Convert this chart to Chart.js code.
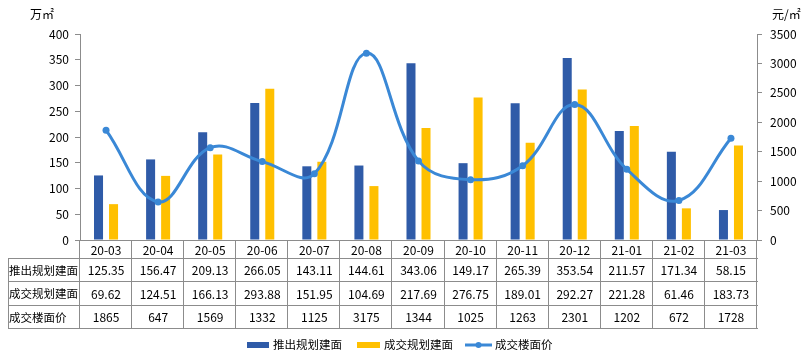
<!DOCTYPE html>
<html><head><meta charset="utf-8">
<script src="https://cdn.jsdelivr.net/npm/chart.js@4.4.1/dist/chart.umd.min.js"></script>
<style>html,body{margin:0;padding:0;background:#fff;}#wrap{width:804px;height:358px;position:relative;}</style>
</head><body><div id="wrap"><canvas id="c" width="804" height="358"></canvas></div>
<script>
const categories = ['20-03','20-04','20-05','20-06','20-07','20-08','20-09','20-10','20-11','20-12','21-01','21-02','21-03'];
const launched = [125.35,156.47,209.13,266.05,143.11,144.61,343.06,149.17,265.39,353.54,211.57,171.34,58.15];
const traded = [69.62,124.51,166.13,293.88,151.95,104.69,217.69,276.75,189.01,292.27,221.28,61.46,183.73];
const price = [1865,647,1569,1332,1125,3175,1344,1025,1263,2301,1202,672,1728];
const launchedText = ['125.35','156.47','209.13','266.05','143.11','144.61','343.06','149.17','265.39','353.54','211.57','171.34','58.15'];
const tradedText = ['69.62','124.51','166.13','293.88','151.95','104.69','217.69','276.75','189.01','292.27','221.28','61.46','183.73'];
const priceText = ['1865','647','1569','1332','1125','3175','1344','1025','1263','2301','1202','672','1728'];
const seriesNames = ['推出规划建面','成交规划建面','成交楼面价'];
const leftUnit = '万㎡';
const rightUnit = '元/㎡';

const BLUE = '#2f5ba8', YELLOW = '#ffc000', LINE = '#3a88d6', GRID = '#8c8c8c', TXT = '#000';
const FONT = '"Noto Sans CJK SC", "Noto Sans", sans-serif';

const tablePlugin = {
  id: 'tablePlugin',
  afterDraw(chart) {
    const ctx = chart.ctx, x = chart.scales.x, a = chart.chartArea;
    const n = categories.length;
    const cw = (a.right - a.left) / n;
    const rows = [a.bottom, 258, 281, 305, 328];
    const tLeft = 8;
    ctx.save();
    ctx.strokeStyle = GRID; ctx.lineWidth = 1;
    ctx.beginPath();
    ctx.moveTo(a.left, rows[0] + 0.5); ctx.lineTo(a.right + 1, rows[0] + 0.5);
    for (let r = 1; r < rows.length; r++) { ctx.moveTo(tLeft, rows[r] + 0.5); ctx.lineTo(a.right + 1, rows[r] + 0.5); }
    ctx.moveTo(tLeft + 0.5, rows[1]); ctx.lineTo(tLeft + 0.5, rows[4] + 0.5);
    for (let i = 0; i <= n; i++) {
      const px = Math.round(a.left + i * cw) - 0.5;
      ctx.moveTo(px, rows[0]); ctx.lineTo(px, rows[4] + 0.5);
    }
    ctx.stroke();
    ctx.fillStyle = TXT;
    ctx.textBaseline = 'middle';
    ctx.font = '12px ' + FONT;
    ctx.textAlign = 'center';
    const rowData = [categories, launchedText, tradedText, priceText];
    for (let r = 0; r < 4; r++) {
      const cy = (rows[r] + rows[r + 1]) / 2 + 1;
      for (let i = 0; i < n; i++) {
        ctx.fillText(rowData[r][i], x.getPixelForValue(i), cy);
      }
    }
    ctx.textAlign = 'left';
    ctx.font = '11.5px ' + FONT;
    for (let r = 1; r < 4; r++) {
      const cy = (rows[r] + rows[r + 1]) / 2 + 1;
      ctx.fillText(seriesNames[r - 1], 9, cy);
    }
    ctx.font = '12px ' + FONT;
    ctx.fillText(leftUnit, 30, 14);
    ctx.fillText(rightUnit, 772, 14);
    const ly = 345;
    ctx.font = '11.5px ' + FONT;
    ctx.fillStyle = BLUE; ctx.fillRect(247, ly - 3, 22, 6);
    ctx.fillStyle = TXT; ctx.fillText(seriesNames[0], 273, ly);
    ctx.fillStyle = YELLOW; ctx.fillRect(357, ly - 3, 23, 6);
    ctx.fillStyle = TXT; ctx.fillText(seriesNames[1], 384, ly);
    ctx.strokeStyle = LINE; ctx.lineWidth = 3;
    ctx.beginPath(); ctx.moveTo(465, ly); ctx.lineTo(492, ly); ctx.stroke();
    ctx.fillStyle = LINE; ctx.beginPath(); ctx.arc(478.5, ly, 3, 0, Math.PI * 2); ctx.fill();
    ctx.fillStyle = TXT; ctx.fillText(seriesNames[2], 495, ly);
    ctx.restore();
  }
};

new Chart(document.getElementById('c'), {
  type: 'bar',
  data: {
    labels: categories,
    datasets: [
      { type: 'line', label: seriesNames[2], data: price, yAxisID: 'y1', borderColor: LINE, backgroundColor: LINE,
        borderWidth: 3, pointRadius: 3.5, pointBackgroundColor: LINE, pointBorderWidth: 0, tension: 0.4, order: 0 },
      { label: seriesNames[0], data: launched, yAxisID: 'y', backgroundColor: BLUE, categoryPercentage: 0.577, barPercentage: 0.6, order: 1 },
      { label: seriesNames[1], data: traded, yAxisID: 'y', backgroundColor: YELLOW, categoryPercentage: 0.577, barPercentage: 0.6, order: 2 }
    ]
  },
  options: {
    responsive: false, animation: false, devicePixelRatio: 1,
    layout: { padding: { left: 0, right: 0, top: 34, bottom: 118 } },
    plugins: { legend: { display: false }, tooltip: { enabled: false } },
    scales: {
      x: { display: false, offset: true },
      y: {
        position: 'left', min: 0, max: 400,
        ticks: { stepSize: 50, color: TXT, font: { family: FONT, size: 12 }, padding: 6, callback: v => String(v) },
        grid: { drawOnChartArea: false, drawTicks: true, tickLength: 5, color: GRID },
        border: { display: true, color: GRID },
        afterFit(s) { s.width = 80; }
      },
      y1: {
        position: 'right', min: 0, max: 3500,
        ticks: { stepSize: 500, color: TXT, font: { family: FONT, size: 12 }, padding: 8, callback: v => String(v) },
        grid: { drawOnChartArea: false, drawTicks: true, tickLength: 5, color: GRID },
        border: { display: true, color: GRID },
        afterFit(s) { s.width = 47; }
      }
    }
  },
  plugins: [tablePlugin]
});
</script></body></html>
